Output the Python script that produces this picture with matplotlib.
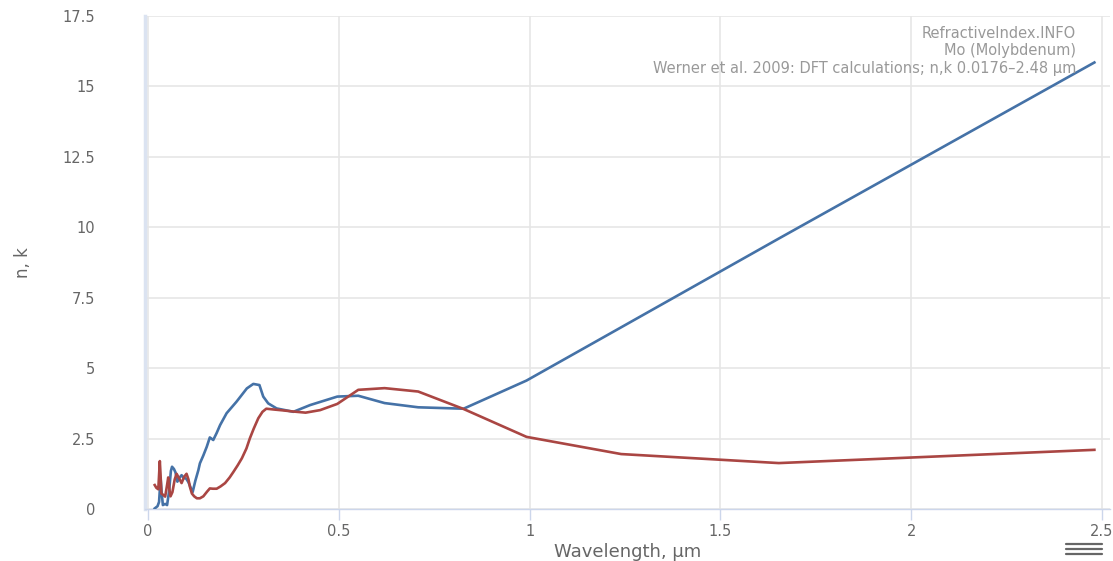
import matplotlib
matplotlib.use("Agg")
import matplotlib.pyplot as plt
from matplotlib.lines import Line2D

# Mo (Molybdenum), Werner et al. 2009 DFT calculations
wl_n = [0.0176, 0.025, 0.029, 0.033, 0.036, 0.039, 0.045, 0.050, 0.055, 0.060,
        0.063, 0.068, 0.072, 0.077, 0.082, 0.088, 0.094, 0.100, 0.106, 0.112,
        0.117, 0.124, 0.132, 0.136, 0.145, 0.154, 0.162, 0.171, 0.180, 0.189,
        0.206, 0.232, 0.259, 0.276, 0.292, 0.302, 0.315, 0.337, 0.381, 0.425,
        0.451, 0.496, 0.551, 0.620, 0.708, 0.827, 0.992, 1.240, 1.653, 2.480]
n_vals = [0.02, 0.10, 0.25, 1.10, 0.55, 0.14, 0.18, 0.14, 0.60, 1.35,
          1.50, 1.42, 1.30, 0.97, 1.10, 1.20, 1.10, 1.08, 0.95, 0.75,
          0.60, 1.00, 1.38, 1.62, 1.90, 2.21, 2.54, 2.45, 2.70, 2.98,
          3.40, 3.81, 4.28, 4.44, 4.40, 3.99, 3.75, 3.57, 3.45, 3.69,
          3.80, 3.99, 4.02, 3.76, 3.61, 3.56, 4.56, 6.45, 9.60, 15.85]

wl_k = [0.0176, 0.022, 0.027, 0.031, 0.033, 0.035, 0.040, 0.045, 0.050, 0.053,
        0.056, 0.059, 0.064, 0.070, 0.075, 0.081, 0.088, 0.095, 0.101, 0.106,
        0.110, 0.115, 0.121, 0.128, 0.136, 0.145, 0.155, 0.162, 0.170, 0.180,
        0.190, 0.202, 0.214, 0.224, 0.235, 0.246, 0.258, 0.267, 0.277, 0.289,
        0.300, 0.310, 0.331, 0.354, 0.381, 0.413, 0.451, 0.496, 0.551, 0.620,
        0.708, 0.827, 0.992, 1.240, 1.653, 2.480]
k_vals = [0.85, 0.75, 0.70, 1.70, 1.20, 0.55, 0.50, 0.44, 0.85, 1.12,
          0.70, 0.45, 0.60, 1.05, 1.25, 1.10, 0.92, 1.15, 1.25, 1.05,
          0.78, 0.55, 0.45, 0.38, 0.38, 0.45, 0.62, 0.73, 0.72, 0.72,
          0.80, 0.92, 1.12, 1.32, 1.55, 1.80, 2.15, 2.51, 2.85, 3.22,
          3.45, 3.56, 3.53, 3.50, 3.46, 3.42, 3.51, 3.73, 4.23, 4.29,
          4.17, 3.55, 2.56, 1.95, 1.63, 2.10]

x_ticks = [0, 0.5, 1, 1.5, 2, 2.5]
x_tick_labels = ["0", "0.5", "1", "1.5", "2", "2.5"]
y_ticks = [0, 2.5, 5, 7.5, 10, 12.5, 15, 17.5]
y_tick_labels = ["0", "2.5", "5", "7.5", "10", "12.5", "15", "17.5"]

credit_lines = ["RefractiveIndex.INFO",
                "Mo (Molybdenum)",
                "Werner et al. 2009: DFT calculations; n,k 0.0176\u20132.48 \u00b5m"]

W, H = 1113, 561
fig = plt.figure(figsize=(W / 100, H / 100), dpi=100)
ax = fig.add_axes([145 / W, (H - 509) / H, (1110 - 145) / W, (509 - 16) / H])

ax.plot(wl_n, n_vals, color="#4572A7", lw=1.9, solid_joinstyle="round", zorder=3)
ax.plot(wl_k, k_vals, color="#AA4643", lw=1.9, solid_joinstyle="round", zorder=3)

ax.set_xlim(-3 / 382, 2.5 + 8 / 382)
ax.set_ylim(0, 17.5)

ax.set_xticks(x_ticks)
ax.set_xticklabels(x_tick_labels)
ax.set_yticks(y_ticks)
ax.set_yticklabels(y_tick_labels)

ax.grid(True, color="#e6e6e6", lw=1.2)
ax.set_axisbelow(True)

for s in ("top", "right"):
    ax.spines[s].set_visible(False)
ax.spines["bottom"].set_color("#ccd6eb")
ax.spines["bottom"].set_linewidth(1.0)
ax.spines["left"].set_color("#dbe3f1")
ax.spines["left"].set_linewidth(2.5)

ax.tick_params(axis="x", colors="#ccd6eb", length=8, width=1, labelcolor="#666666",
               labelsize=10.5, pad=3)
ax.tick_params(axis="y", length=0, labelcolor="#666666", labelsize=10.5, pad=36)

ax.set_xlabel("Wavelength, \u00b5m", color="#666666", fontsize=13, labelpad=3)
ax.set_ylabel("n, k", color="#666666", fontsize=12, labelpad=22)

for i, line in enumerate(credit_lines):
    fig.text(1076 / W, 1 - (33 + 18 * i) / H, line, ha="right", va="center",
             color="#999999", fontsize=10.5)

# menu icon
for yy in (543.5, 548.5, 553.5):
    fig.add_artist(Line2D([1066 / W, 1102 / W], [1 - yy / H, 1 - yy / H],
                          color="#666666", lw=1.6, solid_capstyle="round"))

fig.savefig("out.png", dpi=100)
